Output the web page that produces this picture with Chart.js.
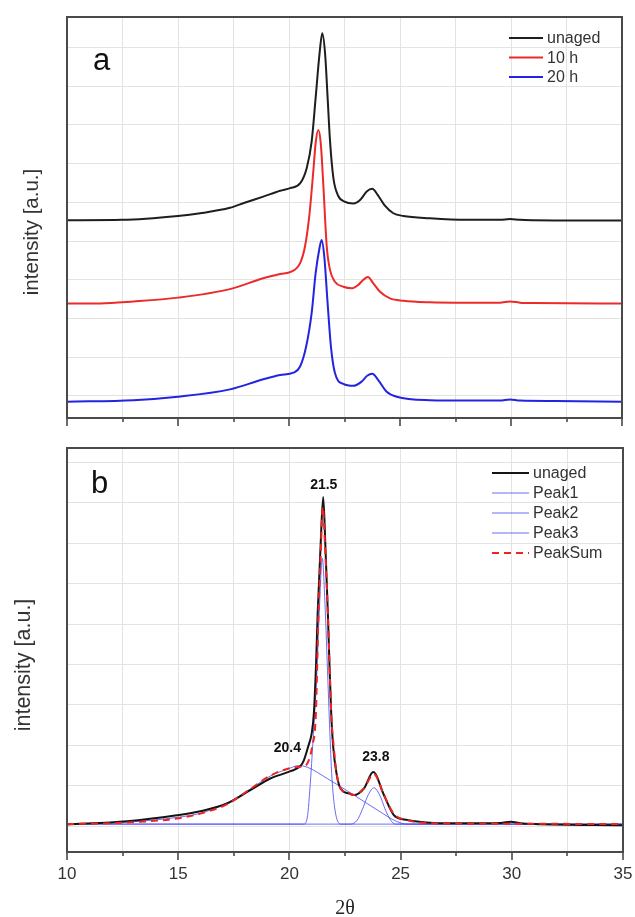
<!DOCTYPE html>
<html>
<head>
<meta charset="utf-8">
<script src="https://cdn.jsdelivr.net/npm/chart.js@4.4.1/dist/chart.umd.min.js"></script>
<style>
  html, body { margin: 0; padding: 0; background: #fff; }
  #wrap { position: relative; width: 635px; height: 917px; overflow: hidden; }
  canvas { position: absolute; left: 0; }
</style>
</head>
<body>
<div id="wrap">
  <canvas id="chartA" width="635" height="440" style="top:0px"></canvas>
  <canvas id="chartB" width="635" height="477" style="top:440px"></canvas>
</div>
<script>
// ---- data (2theta in degrees, intensity in arbitrary units) ----
const X_TICKS = [10, 12.5, 15, 17.5, 20, 22.5, 25, 27.5, 30, 32.5, 35];
const Y_GRID = [0, 1, 2, 3, 4, 5, 6, 7, 8, 9];

// panel a
const unagedA_x = [10, 12.5, 15, 16, 17.34, 18, 18.84, 19.6, 20.05, 20.5, 20.8, 21.02, 21.2, 21.37, 21.5, 21.63, 21.74, 21.85, 22.0, 22.2, 22.5, 22.9, 23.2, 23.5, 23.75, 24.0, 24.3, 24.7, 25.15, 26.35, 28, 29.5, 29.95, 30.4, 31, 33, 35];
const unagedA_y = [4.54, 4.55, 4.65, 4.72, 4.86, 4.99, 5.15, 5.30, 5.37, 5.49, 5.89, 6.57, 7.70, 8.81, 9.37, 8.81, 7.70, 6.57, 5.63, 5.19, 5.02, 4.97, 5.06, 5.28, 5.35, 5.19, 4.93, 4.72, 4.65, 4.59, 4.55, 4.55, 4.57, 4.55, 4.54, 4.53, 4.53];

const aged10_x = [10, 11.5, 13, 15, 17.34, 18.84, 19.6, 20.1, 20.5, 20.72, 20.91, 21.1, 21.2, 21.32, 21.43, 21.55, 21.7, 21.85, 22.07, 22.45, 22.82, 23.12, 23.35, 23.55, 23.8, 24.1, 24.55, 25.15, 26.35, 27.5, 29.5, 29.95, 30.4, 31, 35];
const aged10_y = [2.39, 2.39, 2.44, 2.54, 2.76, 3.04, 3.15, 3.21, 3.43, 3.86, 4.63, 5.84, 6.53, 6.87, 6.53, 5.41, 3.86, 3.25, 2.95, 2.82, 2.78, 2.87, 3.00, 3.07, 2.91, 2.69, 2.52, 2.46, 2.42, 2.41, 2.41, 2.44, 2.41, 2.40, 2.39];

const aged20_x = [10, 13, 15, 17.34, 18.84, 19.6, 20.2, 20.5, 20.77, 21.02, 21.2, 21.37, 21.47, 21.59, 21.74, 21.89, 22.07, 22.45, 22.9, 23.27, 23.52, 23.75, 24.02, 24.4, 24.85, 26.35, 28, 29.5, 29.95, 30.4, 32, 35];
const aged20_y = [-0.15, -0.11, -0.02, 0.17, 0.43, 0.54, 0.60, 0.76, 1.27, 2.14, 3.17, 3.81, 4.03, 3.60, 2.39, 1.27, 0.59, 0.31, 0.26, 0.37, 0.52, 0.57, 0.41, 0.11, -0.02, -0.11, -0.12, -0.12, -0.09, -0.12, -0.13, -0.15];

// panel b (peak fit of the unaged sample)
const unagedB_x = [10, 12.7, 14.94, 16, 17.19, 18.24, 19.14, 20.05, 20.5, 20.65, 20.85, 21.0, 21.1, 21.2, 21.27, 21.4, 21.52, 21.62, 21.73, 21.8, 21.88, 21.97, 22.12, 22.3, 22.67, 22.9, 23.35, 23.77, 24.25, 24.7, 25.3, 26.5, 28, 29.5, 29.95, 30.4, 31, 35];
const unagedB_y = [0.04, 0.12, 0.27, 0.37, 0.56, 0.89, 1.18, 1.36, 1.49, 1.63, 1.98, 2.29, 2.79, 4.03, 5.26, 6.91, 8.15, 6.91, 5.26, 4.03, 2.79, 1.96, 1.30, 0.93, 0.81, 0.77, 0.93, 1.34, 0.77, 0.27, 0.15, 0.08, 0.07, 0.08, 0.11, 0.07, 0.05, 0.02];

const peak1_x = [10, 12.7, 15, 16, 17.19, 18.24, 19.14, 20.05, 20.4, 20.8, 21.7, 22.9, 23.95, 24.85, 25.3, 35];
const peak1_y = [0.05, 0.10, 0.22, 0.32, 0.57, 0.92, 1.24, 1.44, 1.50, 1.46, 1.18, 0.77, 0.40, 0.11, 0.05, 0.05];

const peak2_x = [10, 20.64, 20.8, 20.95, 21.08, 21.22, 21.35, 21.48, 21.6, 21.73, 21.85, 21.92, 22.05, 22.3, 35];
const peak2_y = [0.05, 0.05, 0.20, 1.14, 2.30, 3.61, 5.40, 6.63, 5.50, 3.61, 1.90, 1.14, 0.40, 0.05, 0.05];

const peak3_x = [10, 22.75, 23.05, 23.27, 23.55, 23.8, 24.05, 24.32, 24.55, 24.77, 35];
const peak3_y = [0.05, 0.05, 0.15, 0.40, 0.78, 0.95, 0.78, 0.40, 0.15, 0.05, 0.05];

const peakSum_x = [10, 12.7, 14.94, 16, 17.19, 18.24, 19.14, 20.05, 20.5, 20.64, 20.87, 21.02, 21.19, 21.3, 21.4, 21.5, 21.62, 21.73, 21.88, 22.0, 22.12, 22.3, 22.67, 22.9, 23.35, 23.8, 24.25, 24.7, 25.3, 26.5, 30, 35];
const peakSum_y = [0.05, 0.09, 0.19, 0.31, 0.54, 0.92, 1.25, 1.44, 1.47, 1.47, 1.63, 1.96, 2.79, 5.10, 6.60, 7.90, 6.70, 5.27, 2.79, 1.93, 1.31, 0.94, 0.82, 0.77, 0.94, 1.29, 0.77, 0.30, 0.15, 0.07, 0.06, 0.05];

// peak position labels in panel b
const peakLabels = ['21.5', '20.4', '23.8'];
const peakLabelX = [21.5, 20.4, 23.8];
const peakLabelY = [8.15, 1.50, 1.34];

// ---- helpers ----
const FONT = '"Liberation Sans", Arial, sans-serif';
const pts = (xs, ys) => xs.map((x, i) => ({ x: x, y: ys[i] }));

function line(label, xs, ys, color, width, extra) {
  return Object.assign({
    label: label,
    data: pts(xs, ys),
    borderColor: color,
    borderWidth: width,
    pointRadius: 0,
    fill: false,
    cubicInterpolationMode: 'monotone'
  }, extra || {});
}

// frame + tick marks, legend, texts
const decorPlugin = {
  id: 'decor',
  afterDraw(chart, args, o) {
    const ctx = chart.ctx;
    const a = chart.chartArea;
    const xs = chart.scales.x, ys = chart.scales.y;
    ctx.save();

    // tick marks under the x axis
    ctx.strokeStyle = '#3c3c3c';
    ctx.lineWidth = 1.5;
    X_TICKS.forEach(v => {
      const px = Math.round(xs.getPixelForValue(v));
      const len = v % 5 === 0 ? 8 : 4;
      ctx.beginPath();
      ctx.moveTo(px, a.bottom);
      ctx.lineTo(px, a.bottom + len);
      ctx.stroke();
    });

    // frame
    ctx.lineWidth = 2;
    ctx.strokeStyle = '#4a4a4a';
    ctx.strokeRect(a.left, a.top, a.right - a.left, a.bottom - a.top);

    // panel letter
    ctx.fillStyle = '#111';
    ctx.font = '31px ' + FONT;
    ctx.textAlign = 'left';
    ctx.textBaseline = 'alphabetic';
    ctx.fillText(o.letter, o.letterX, o.letterY);

    // y title
    ctx.save();
    ctx.translate(o.titleX, o.titleY);
    ctx.rotate(-Math.PI / 2);
    ctx.font = o.titleSize + 'px ' + FONT;
    ctx.fillStyle = '#333';
    ctx.textAlign = 'center';
    ctx.textBaseline = 'middle';
    ctx.fillText('intensity [a.u.]', 0, 0);
    ctx.restore();

    // legend
    ctx.font = '16px ' + FONT;
    ctx.textBaseline = 'middle';
    ctx.textAlign = 'left';
    chart.data.datasets.forEach((d, i) => {
      const y = o.legY + i * o.legDy;
      ctx.save();
      ctx.strokeStyle = d.borderColor;
      ctx.lineWidth = d.borderWidth;
      ctx.setLineDash(d.borderDash || []);
      ctx.beginPath();
      ctx.moveTo(o.legX0, y);
      ctx.lineTo(o.legX1, y);
      ctx.stroke();
      ctx.restore();
      ctx.fillStyle = '#333';
      ctx.fillText(d.label, o.legX1 + 4, y + 1);
    });

    // peak labels
    if (o.peaks) {
      ctx.font = 'bold 14px ' + FONT;
      ctx.fillStyle = '#111';
      ctx.textAlign = 'center';
      ctx.textBaseline = 'middle';
      peakLabels.forEach((t, i) => {
        const px = xs.getPixelForValue(peakLabelX[i]) + o.peakDx[i];
        const py = ys.getPixelForValue(peakLabelY[i]) + o.peakDy[i];
        ctx.fillText(t, px, py);
      });
    }

    // x title
    if (o.xTitle) {
      ctx.font = '20px "Liberation Serif", "Times New Roman", serif';
      ctx.fillStyle = '#222';
      ctx.textAlign = 'center';
      ctx.textBaseline = 'middle';
      ctx.fillText(o.xTitle, o.xTitleX, o.xTitleY);
    }
    ctx.restore();
  }
};

function makeOptions(cfg) {
  return {
    responsive: false,
    animation: false,
    events: [],
    layout: { padding: { top: cfg.padTop, right: cfg.padRight, left: 0, bottom: 0 } },
    plugins: {
      legend: { display: false },
      tooltip: { enabled: false },
      decor: cfg.decor
    },
    scales: {
      x: {
        type: 'linear',
        min: 10,
        max: 35,
        afterBuildTicks: s => { s.ticks = X_TICKS.map(v => ({ value: v })); },
        afterFit: s => { s.height = cfg.xHeight; s.paddingLeft = 0; s.paddingRight = 0; },
        grid: { color: '#e3e3e3', lineWidth: 1, drawTicks: false },
        border: { display: false },
        ticks: {
          display: cfg.showXLabels,
          autoSkip: false,
          maxRotation: 0,
          padding: 12,
          color: '#333',
          font: { family: FONT, size: 17 },
          callback: v => (v % 5 === 0 ? String(v) : '')
        }
      },
      y: {
        type: 'linear',
        min: cfg.yMin,
        max: cfg.yMax,
        afterBuildTicks: s => { s.ticks = Y_GRID.map(v => ({ value: v })); },
        afterFit: s => { s.width = 67; },
        grid: { color: '#e3e3e3', lineWidth: 1, drawTicks: false },
        border: { display: false },
        ticks: { display: false }
      }
    }
  };
}

// ---- panel a ----
new Chart(document.getElementById('chartA'), {
  type: 'line',
  data: {
    datasets: [
      line('unaged', unagedA_x, unagedA_y, '#1e1e1e', 2),
      line('10 h', aged10_x, aged10_y, '#ec2a2a', 2),
      line('20 h', aged20_x, aged20_y, '#2424e0', 2)
    ]
  },
  options: makeOptions({
    padTop: 17, padRight: 13, xHeight: 22, showXLabels: false,
    yMin: -0.57, yMax: 9.79,
    decor: {
      letter: 'a', letterX: 93, letterY: 70,
      titleX: 32, titleY: 232, titleSize: 20.5,
      legX0: 509, legX1: 543, legY: 38, legDy: 19.5
    }
  }),
  plugins: [decorPlugin]
});

// ---- panel b ----
new Chart(document.getElementById('chartB'), {
  type: 'line',
  data: {
    datasets: [
      line('unaged', unagedB_x, unagedB_y, '#141414', 2, { order: 1 }),
      line('Peak1', peak1_x, peak1_y, 'rgba(70,70,245,0.8)', 1, { order: 2 }),
      line('Peak2', peak2_x, peak2_y, 'rgba(70,70,245,0.8)', 1, { order: 3 }),
      line('Peak3', peak3_x, peak3_y, 'rgba(70,70,245,0.8)', 1, { order: 4 }),
      line('PeakSum', peakSum_x, peakSum_y, '#ee2424', 2, { order: 0, borderDash: [7, 5] })
    ]
  },
  options: makeOptions({
    padTop: 8, padRight: 12, xHeight: 65, showXLabels: true,
    yMin: -0.64, yMax: 9.36,
    decor: {
      letter: 'b', letterX: 91, letterY: 53,
      titleX: 24, titleY: 225, titleSize: 21.5,
      legX0: 492, legX1: 529, legY: 33, legDy: 20,
      peaks: true, peakDx: [1, -11, 2], peakDy: [-12, -17, -15],
      xTitle: '2\u03b8', xTitleX: 345, xTitleY: 469
    }
  }),
  plugins: [decorPlugin]
});
</script>
</body>
</html>
